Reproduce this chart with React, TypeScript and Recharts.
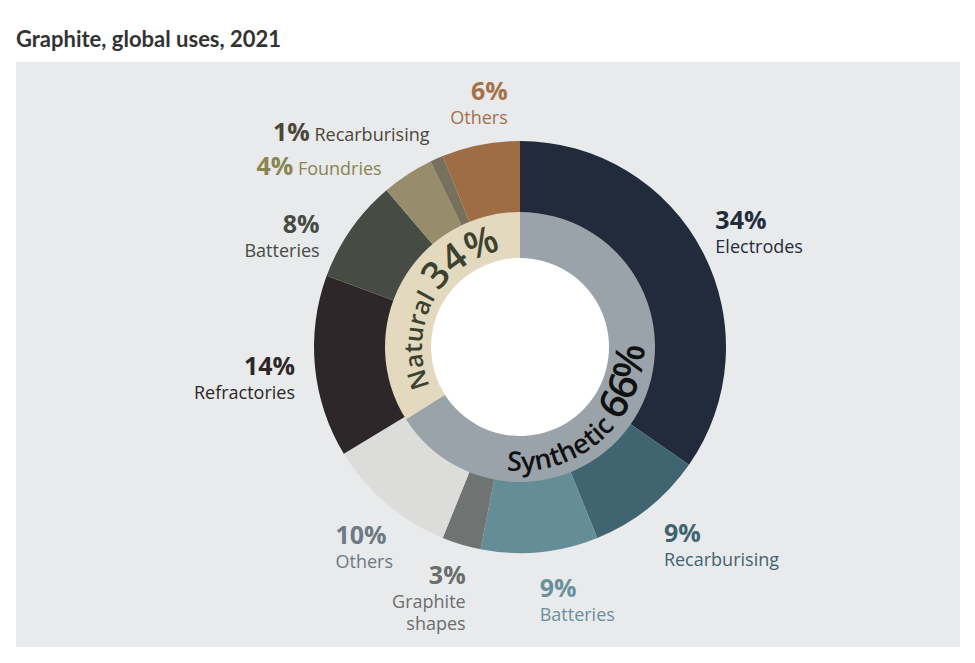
import { PieChart, Pie, Cell } from "recharts"

const outerNames = ["Electrodes", "Recarburising", "Batteries", "Graphite shapes", "Others", "Refractories", "Batteries", "Foundries", "Recarburising", "Others"]
const outerShares = [34, 9, 9, 3, 10, 14, 8, 4, 1, 6]
const ringNames = ["Synthetic", "Natural"]
const ringShares = [66, 34]

const outerData = outerNames.map((name, i) => ({ name, value: outerShares[i] }))
const ringData = ringNames.map((name, i) => ({ name, value: ringShares[i] }))

const outerFills = ["#222b3c", "#406570", "#658d98", "#6f7371", "#dcdcda", "#2e2729", "#464b43", "#978c6b", "#77705d", "#9e6c45"]
const outerTextColors = ["#232c3d", "#3f6570", "#6a919b", "#6b6e6d", "#6d7985", "#2e2729", "#464b43", "#8a8550", "#4c4638", "#a5714a"]
const ringFills = ["#9aa3a9", "#e3d9bf"]
const ringTextColors = ["#111111", "#3b4330"]

// label placement, offsets from the point just outside each slice
const outerLabelLayout = [
  { dx: -5, dy: -13, anchor: "start" },
  { dx: 3, dy: 18, anchor: "start" },
  { dx: -2, dy: 25, anchor: "start" },
  { dx: 10, dy: 20, anchor: "end", lines: ["Graphite", "shapes"] },
  { dx: -38, dy: 25, anchor: "start" },
  { dx: 0, dy: 6, anchor: "end" },
  { dx: -15, dy: 15, anchor: "end" },
  { dx: -15, dy: 17, anchor: "end", inline: true },
  { dx: 1, dy: 1, anchor: "end", inline: true },
  { dx: 31, dy: -25, anchor: "end" },
]

const ringLabelLayout = [
  { shift: -19, radius: 124, clockwise: false, small: 27, big: 40 },
  { shift: 1, radius: 98, clockwise: true, small: 25, big: 38 },
]

const FONT = "'Open Sans', sans-serif"
const RAD = Math.PI / 180
const CX = 504
const CY = 285
const MARGIN = 5 // PieChart default margin shifts pixel cx/cy

const renderOuterLabel = (p: any) => {
  const i = p.index
  const L: any = outerLabelLayout[i]
  const r = p.outerRadius + 20
  const x = p.cx + r * Math.cos(-p.midAngle * RAD) + L.dx
  const y = p.cy + r * Math.sin(-p.midAngle * RAD) + L.dy
  const color = outerTextColors[i]
  const pct = `${outerShares[i]}%`
  if (L.inline) {
    return (
      <text x={x} y={y} textAnchor={L.anchor} fill={color} fontFamily={FONT}>
        <tspan fontSize={25} fontWeight={700}>{pct}</tspan>
        <tspan fontSize={18}> {outerNames[i]}</tspan>
      </text>
    )
  }
  const lines = L.lines || [outerNames[i]]
  return (
    <text x={x} y={y} textAnchor={L.anchor} fill={color} fontFamily={FONT}>
      <tspan x={x} y={y} fontSize={25} fontWeight={700}>{pct}</tspan>
      {lines.map((t: string, k: number) => (
        <tspan key={k} x={x} y={y + 24 + k * 22} fontSize={18}>{t}</tspan>
      ))}
    </text>
  )
}

const renderRingLabel = (p: any) => {
  const i = p.index
  const L = ringLabelLayout[i]
  const c = p.midAngle + L.shift
  const a0 = L.clockwise ? c + 85 : c - 85
  const a1 = L.clockwise ? c - 85 : c + 85
  const pt = (a: number) => [p.cx + L.radius * Math.cos(-a * RAD), p.cy + L.radius * Math.sin(-a * RAD)]
  const [x0, y0] = pt(a0)
  const [x1, y1] = pt(a1)
  const id = `ring-arc-${i}`
  const d = `M ${x0} ${y0} A ${L.radius} ${L.radius} 0 0 ${L.clockwise ? 1 : 0} ${x1} ${y1}`
  return (
    <g>
      <defs>
        <path id={id} d={d} />
      </defs>
      <text fill={ringTextColors[i]} fontFamily={FONT} fontWeight={600}>
        <textPath href={`#${id}`} startOffset="50%" textAnchor="middle">
          <tspan fontSize={L.small}>{ringNames[i]} </tspan>
          <tspan fontSize={L.big}>{ringShares[i]}%</tspan>
        </textPath>
      </text>
    </g>
  )
}

export default function App() {
  return (
    <div style={{ position: "absolute", left: 0, top: 0, width: 975, height: 663, background: "#fff" }}>
      <div style={{ position: "absolute", left: 16, top: 25, fontFamily: "Lato, sans-serif", fontWeight: 700, fontSize: 22, color: "#333" }}>
        Graphite, global uses, 2021
      </div>
      <div style={{ position: "absolute", left: 16, top: 62, width: 944, height: 585, background: "#e9eaec" }}>
        {/* white hole in the middle of the donut */}
        <div style={{ position: "absolute", left: CX - 90, top: CY - 90, width: 180, height: 180, borderRadius: "50%", background: "#fff" }} />
        <div style={{ position: "absolute", left: 0, top: 0 }}>
          <PieChart width={944} height={585}>
            <Pie
              data={outerData}
              dataKey="value"
              cx={CX - MARGIN}
              cy={CY - MARGIN}
              innerRadius={134}
              outerRadius={206}
              startAngle={90}
              endAngle={-270}
              stroke="none"
              label={renderOuterLabel}
              labelLine={false}
              isAnimationActive={false}
            >
              {outerData.map((d, i) => (
                <Cell key={i} fill={outerFills[i]} />
              ))}
            </Pie>
            <Pie
              data={ringData}
              dataKey="value"
              cx={CX - MARGIN}
              cy={CY - MARGIN}
              innerRadius={89}
              outerRadius={135}
              startAngle={90}
              endAngle={-270}
              stroke="none"
              label={renderRingLabel}
              labelLine={false}
              isAnimationActive={false}
            >
              {ringData.map((d, i) => (
                <Cell key={i} fill={ringFills[i]} />
              ))}
            </Pie>
          </PieChart>
        </div>
      </div>
    </div>
  )
}
